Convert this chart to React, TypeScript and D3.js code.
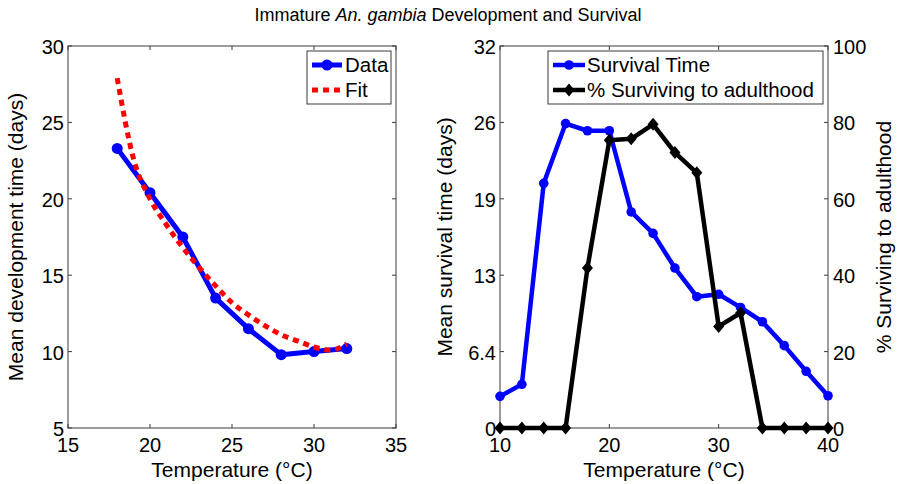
import React from 'react';
import * as d3 from 'd3';

// ---- Data ----
const devTemps = [18, 20, 22, 24, 26, 28, 30, 32];
const devDays = [23.3, 20.4, 17.5, 13.5, 11.5, 9.8, 10.0, 10.2];
const fitTemps = [18, 19, 20, 21, 22, 23, 24, 25, 26, 27, 28, 29, 30, 31, 32];
const fitDays = [27.9, 22.6, 20.0, 18.3, 16.8, 15.5, 14.3, 13.2, 12.4, 11.7, 11.1, 10.7, 10.3, 10.1, 10.5];

const survTemps = [10, 12, 14, 16, 18, 20, 22, 24, 26, 28, 30, 32, 34, 36, 38, 40];
const survDays = [2.65, 3.66, 20.5, 25.5, 24.9, 24.9, 18.1, 16.3, 13.4, 11.0, 11.2, 10.1, 8.9, 6.9, 4.75, 2.7];
const pctAdult = [0, 0, 0, 0, 41.9, 75.3, 75.7, 79.5, 72.1, 66.8, 26.6, 30.1, 0, 0, 0, 0];

const leftXTicks = [15, 20, 25, 30, 35];
const leftYTicks = [5, 10, 15, 20, 25, 30];
const rightXTicks = [10, 20, 30, 40];
const survYTicks = [0, 6.4, 12.8, 19.2, 25.6, 32];
const survYTickLabels = ['0', '6.4', '13', '19', '26', '32'];
const pctYTicks = [0, 20, 40, 60, 80, 100];

const FONT = '"Liberation Sans", Arial, Helvetica, sans-serif';
const TICK_FS = 20;
const LABEL_FS = 21;
const AXIS_COLOR = '#3a3a3a';
const TL = 4;

const top = 46;
const bottom = 428;
const L = { x0: 68, x1: 396 };
const R = { x0: 500, x1: 828 };

export default function App() {
  const lx = d3.scaleLinear().domain([15, 35]).range([L.x0, L.x1]);
  const ly = d3.scaleLinear().domain([5, 30]).range([bottom, top]);
  const rx = d3.scaleLinear().domain([10, 40]).range([R.x0, R.x1]);
  const ryS = d3.scaleLinear().domain([0, 32]).range([bottom, top]);
  const ryP = d3.scaleLinear().domain([0, 100]).range([bottom, top]);

  const devPts = devTemps.map((t, i) => [t, devDays[i]] as [number, number]);
  const fitPts = fitTemps.map((t, i) => [t, fitDays[i]] as [number, number]);
  const survPts = survTemps.map((t, i) => [t, survDays[i]] as [number, number]);
  const pctPts = survTemps.map((t, i) => [t, pctAdult[i]] as [number, number]);

  const devLine = d3.line<[number, number]>().x(d => lx(d[0])).y(d => ly(d[1]));
  const fitLine = d3.line<[number, number]>().x(d => lx(d[0])).y(d => ly(d[1])).curve(d3.curveMonotoneX);
  const survLine = d3.line<[number, number]>().x(d => rx(d[0])).y(d => ryS(d[1]));
  const pctLine = d3.line<[number, number]>().x(d => rx(d[0])).y(d => ryP(d[1]));

  const diamond = (cx: number, cy: number, w = 5.5, h = 6.5) =>
    `M${cx},${cy - h}L${cx + w},${cy}L${cx},${cy + h}L${cx - w},${cy}Z`;

  const textStyle = { fontFamily: FONT, fill: '#000' } as const;

  return (
    <svg width={897} height={484} style={{ position: 'absolute', left: 0, top: 0, background: '#fff' }}>
      <rect x={0} y={0} width={897} height={484} fill="#fff" />
      {/* Title */}
      <text x={448} y={21} textAnchor="middle" fontSize={18} style={textStyle}>
        Immature <tspan fontStyle="italic">An. gambia</tspan> Development and Survival
      </text>

      {/* ---------- Left plot ---------- */}
      <rect x={L.x0} y={top} width={L.x1 - L.x0} height={bottom - top} fill="none" stroke={AXIS_COLOR} strokeWidth={1} />
      {leftXTicks.map(t => (
        <g key={'lxt' + t}>
          <line x1={lx(t)} x2={lx(t)} y1={bottom} y2={bottom - TL} stroke={AXIS_COLOR} />
          <line x1={lx(t)} x2={lx(t)} y1={top} y2={top + TL} stroke={AXIS_COLOR} />
          <text x={lx(t)} y={452} textAnchor="middle" fontSize={TICK_FS} style={textStyle}>{t}</text>
        </g>
      ))}
      {leftYTicks.map(t => (
        <g key={'lyt' + t}>
          <line x1={L.x0} x2={L.x0 + TL} y1={ly(t)} y2={ly(t)} stroke={AXIS_COLOR} />
          <line x1={L.x1} x2={L.x1 - TL} y1={ly(t)} y2={ly(t)} stroke={AXIS_COLOR} />
          <text x={L.x0 - 4} y={ly(t) + 8} textAnchor="end" fontSize={TICK_FS} style={textStyle}>{t}</text>
        </g>
      ))}
      <text x={(L.x0 + L.x1) / 2} y={477} textAnchor="middle" fontSize={LABEL_FS} style={textStyle}>Temperature (°C)</text>
      <text transform={`translate(23,237) rotate(-90)`} textAnchor="middle" fontSize={LABEL_FS} style={textStyle}>
        Mean development time (days)
      </text>

      <path d={devLine(devPts) || ''} fill="none" stroke="#0000ff" strokeWidth={5} strokeLinejoin="round" />
      {devPts.map((d, i) => (
        <circle key={'dc' + i} cx={lx(d[0])} cy={ly(d[1])} r={5.5} fill="#0000ff" />
      ))}
      <path d={fitLine(fitPts) || ''} fill="none" stroke="#ff0000" strokeWidth={5} strokeDasharray="6,5" />

      {/* left legend */}
      <rect x={307} y={51} width={84} height={53} fill="#fff" stroke={AXIS_COLOR} strokeWidth={1} />
      <line x1={312} x2={342} y1={65} y2={65} stroke="#0000ff" strokeWidth={5} />
      <circle cx={327} cy={65} r={5.5} fill="#0000ff" />
      <text x={345} y={72} fontSize={20.5} style={textStyle}>Data</text>
      <line x1={312} x2={342} y1={90} y2={90} stroke="#ff0000" strokeWidth={5} strokeDasharray="6,5" />
      <text x={345} y={97} fontSize={20.5} style={textStyle}>Fit</text>

      {/* ---------- Right plot ---------- */}
      <rect x={R.x0} y={top} width={R.x1 - R.x0} height={bottom - top} fill="none" stroke={AXIS_COLOR} strokeWidth={1} />
      {rightXTicks.map(t => (
        <g key={'rxt' + t}>
          <line x1={rx(t)} x2={rx(t)} y1={bottom} y2={bottom - TL} stroke={AXIS_COLOR} />
          <line x1={rx(t)} x2={rx(t)} y1={top} y2={top + TL} stroke={AXIS_COLOR} />
          <text x={rx(t)} y={452} textAnchor="middle" fontSize={TICK_FS} style={textStyle}>{t}</text>
        </g>
      ))}
      {survYTicks.map((t, i) => (
        <g key={'syt' + t}>
          <line x1={R.x0} x2={R.x0 + TL} y1={ryS(t)} y2={ryS(t)} stroke={AXIS_COLOR} />
          <text x={R.x0 - 4} y={ryS(t) + 8} textAnchor="end" fontSize={TICK_FS} style={textStyle}>{survYTickLabels[i]}</text>
        </g>
      ))}
      {pctYTicks.map(t => (
        <g key={'pyt' + t}>
          <line x1={R.x1} x2={R.x1 - TL} y1={ryP(t)} y2={ryP(t)} stroke={AXIS_COLOR} />
          <text x={R.x1 + 5} y={ryP(t) + 8} textAnchor="start" fontSize={TICK_FS} style={textStyle}>{t}</text>
        </g>
      ))}
      <text x={(R.x0 + R.x1) / 2} y={477} textAnchor="middle" fontSize={LABEL_FS} style={textStyle}>Temperature (°C)</text>
      <text transform={`translate(452,237) rotate(-90)`} textAnchor="middle" fontSize={LABEL_FS} style={textStyle}>
        Mean survival time (days)
      </text>
      <text transform={`translate(891,237) rotate(-90)`} textAnchor="middle" fontSize={LABEL_FS} style={textStyle}>
        % Surviving to adulthood
      </text>

      <path d={survLine(survPts) || ''} fill="none" stroke="#0000ff" strokeWidth={4.5} strokeLinejoin="round" />
      {survPts.map((d, i) => (
        <circle key={'sc' + i} cx={rx(d[0])} cy={ryS(d[1])} r={4.8} fill="#0000ff" />
      ))}
      <path d={pctLine(pctPts) || ''} fill="none" stroke="#000" strokeWidth={4.5} strokeLinejoin="round" />
      {pctPts.map((d, i) => (
        <path key={'pd' + i} d={diamond(rx(d[0]), ryP(d[1]))} fill="#000" />
      ))}

      {/* right legend */}
      <rect x={548} y={51} width={275} height={53} fill="#fff" stroke={AXIS_COLOR} strokeWidth={1} />
      <line x1={553} x2={585} y1={65} y2={65} stroke="#0000ff" strokeWidth={4.5} />
      <circle cx={569} cy={65} r={4.8} fill="#0000ff" />
      <text x={587} y={72} fontSize={20.5} style={textStyle}>Survival Time</text>
      <line x1={553} x2={585} y1={90} y2={90} stroke="#000" strokeWidth={4.5} />
      <path d={diamond(569, 90)} fill="#000" />
      <text x={587} y={97} fontSize={20.5} style={textStyle}>% Surviving to adulthood</text>
    </svg>
  );
}
